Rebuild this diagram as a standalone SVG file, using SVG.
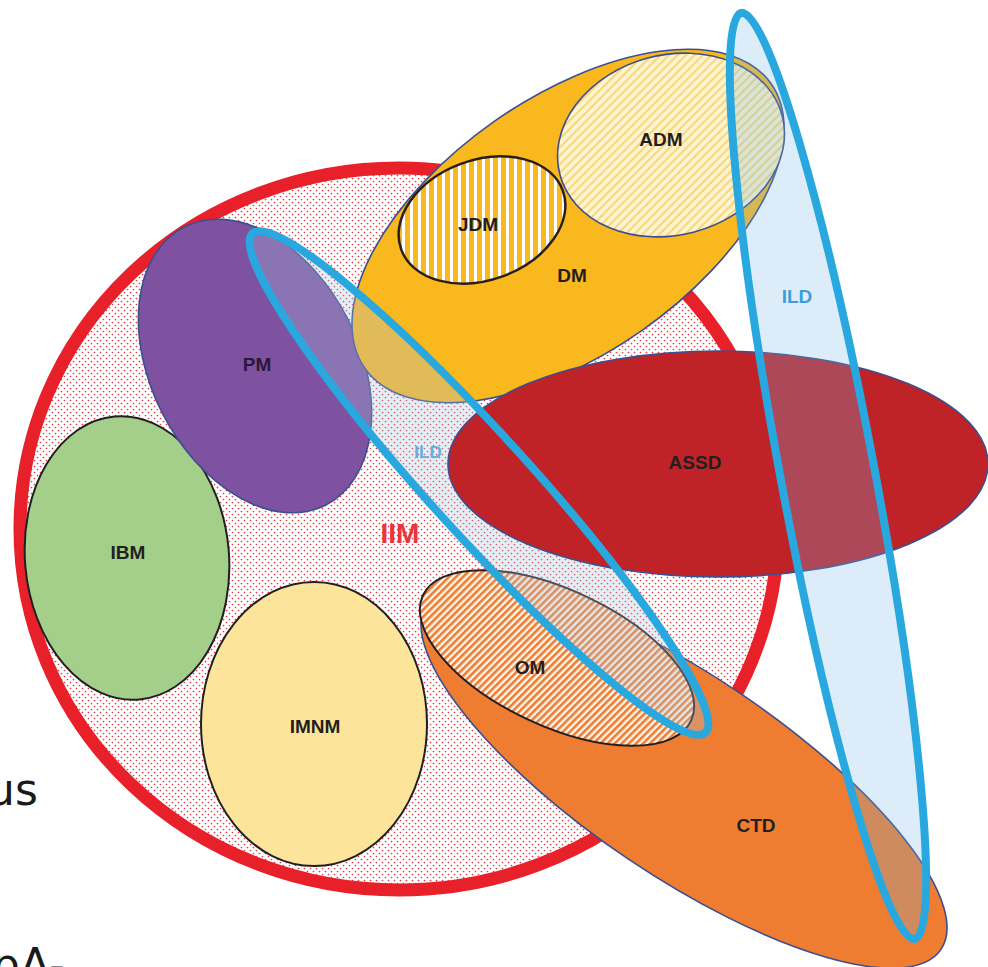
<svg xmlns="http://www.w3.org/2000/svg" width="988" height="967" viewBox="0 0 988 967">
  <defs>
    <pattern id="dots" width="6" height="6" patternUnits="userSpaceOnUse">
      <rect width="6" height="6" fill="#ffffff"/>
      <circle cx="1.5" cy="1.5" r="0.85" fill="#df3a44"/>
      <circle cx="4.5" cy="4.5" r="0.85" fill="#df3a44"/>
    </pattern>
    <pattern id="vstripes" width="8" height="8" patternUnits="userSpaceOnUse" patternTransform="rotate(20)">
      <rect width="8" height="8" fill="#f8b81e"/>
      <rect x="0" width="3" height="8" fill="#ffffff"/>
    </pattern>
    <pattern id="admhatch" width="6" height="6" patternUnits="userSpaceOnUse" patternTransform="rotate(60)">
      <rect width="6" height="6" fill="#fdf3cf"/>
      <rect x="0" width="2" height="6" fill="#f7d67c"/>
    </pattern>
    <pattern id="omhatch" width="5" height="5" patternUnits="userSpaceOnUse" patternTransform="rotate(20)">
      <rect width="5" height="5" fill="#fff6ee"/>
      <rect x="0" width="2.6" height="5" fill="#ee7b2e"/>
    </pattern>
    <style>
      .lbl { font-family: "Liberation Sans", Arial, sans-serif; font-weight: bold; font-size: 19px; fill: #231f20; text-anchor: middle; }
      .edge { stroke: #3b4e92; stroke-width: 1.6; }
      .dark { stroke: #231f20; stroke-width: 2; }
      .ildline { stroke: #29a8df; stroke-width: 8; fill: none; }
      .side { font-family: "DejaVu Sans", "Open Sans", sans-serif; font-size: 44px; fill: #1a1a1a; }
    </style>
  </defs>

  <rect width="988" height="967" fill="#ffffff"/>

  <text class="side" x="-13" y="805">us</text>
  <text class="side" x="-8" y="980">pA-</text>

  <g id="IIM">
    <ellipse cx="399" cy="529" rx="379" ry="361" fill="url(#dots)" stroke="#e8202a" stroke-width="13"/>
  </g>

  <g id="IBM">
    <ellipse cx="0" cy="0" rx="102" ry="142" transform="translate(127,558) rotate(-5)" fill="#a4cf8a" class="dark"/>
    <text class="lbl" x="128" y="559">IBM</text>
  </g>

  <g id="IMNM">
    <ellipse cx="314" cy="724" rx="113" ry="142" fill="#fce59b" class="dark"/>
    <text class="lbl" x="315" y="733">IMNM</text>
  </g>

  <g id="PM">
    <ellipse cx="0" cy="0" rx="156" ry="104" transform="translate(255,366) rotate(63)" fill="#7f52a1" class="edge"/>
    <text class="lbl" x="257" y="371" style="fill:#2a1838">PM</text>
  </g>

  <g id="DM">
    <ellipse cx="0" cy="0" rx="248" ry="128" transform="translate(568,226) rotate(-35)" fill="#f8b81e" class="edge"/>
    <text class="lbl" x="572" y="282">DM</text>
  </g>

  <g id="JDM">
    <ellipse cx="0" cy="0" rx="86" ry="60" transform="translate(482,220) rotate(-20)" fill="url(#vstripes)" stroke="#2a1e1a" stroke-width="2.5"/>
    <text class="lbl" x="478" y="231">JDM</text>
  </g>

  <g id="ADM">
    <ellipse cx="0" cy="0" rx="115" ry="90" transform="translate(671,145) rotate(-15)" fill="url(#admhatch)" class="edge"/>
    <text class="lbl" x="661" y="146">ADM</text>
  </g>

  <g id="CTD">
    <ellipse cx="0" cy="0" rx="310" ry="100" transform="translate(684,776) rotate(34)" fill="#ee7d31" class="edge"/>
    <text class="lbl" x="756" y="832">CTD</text>
  </g>

  <g id="OM">
    <ellipse cx="0" cy="0" rx="148" ry="68" transform="translate(557,658) rotate(25)" fill="url(#omhatch)" class="dark"/>
    <text class="lbl" x="530" y="674">OM</text>
  </g>

  <g id="ILD-inner-area">
    <ellipse cx="0" cy="0" rx="337" ry="50" transform="translate(479,483) rotate(47.8)" fill="#a9c4de" fill-opacity="0.3"/>
  </g>

  <g id="ASSD">
    <ellipse cx="718" cy="464" rx="270" ry="113" fill="#bf2328" class="edge"/>
    <text class="lbl" x="695" y="469">ASSD</text>
  </g>

  <g id="ILD-inner">
    <ellipse cx="0" cy="0" rx="337" ry="50" transform="translate(479,483) rotate(47.8)" class="ildline"/>
    <text class="lbl" x="428" y="458" style="font-size:17px;fill:#5fb0e0">ILD</text>
  </g>

  <g id="ILD-outer">
    <ellipse cx="0" cy="0" rx="471" ry="47" transform="translate(828,476) rotate(79.4)" fill="#73b7e7" fill-opacity="0.25"/>
    <ellipse cx="0" cy="0" rx="471" ry="47" transform="translate(828,476) rotate(79.4)" class="ildline"/>
    <text class="lbl" x="797" y="303" style="fill:#3d9fd6">ILD</text>
  </g>

  <g id="labels-IIM">
    <text class="lbl" x="400" y="543" style="font-size:28px;fill:#e8343c">IIM</text>
  </g>

  <g id="connectors"/>
</svg>
